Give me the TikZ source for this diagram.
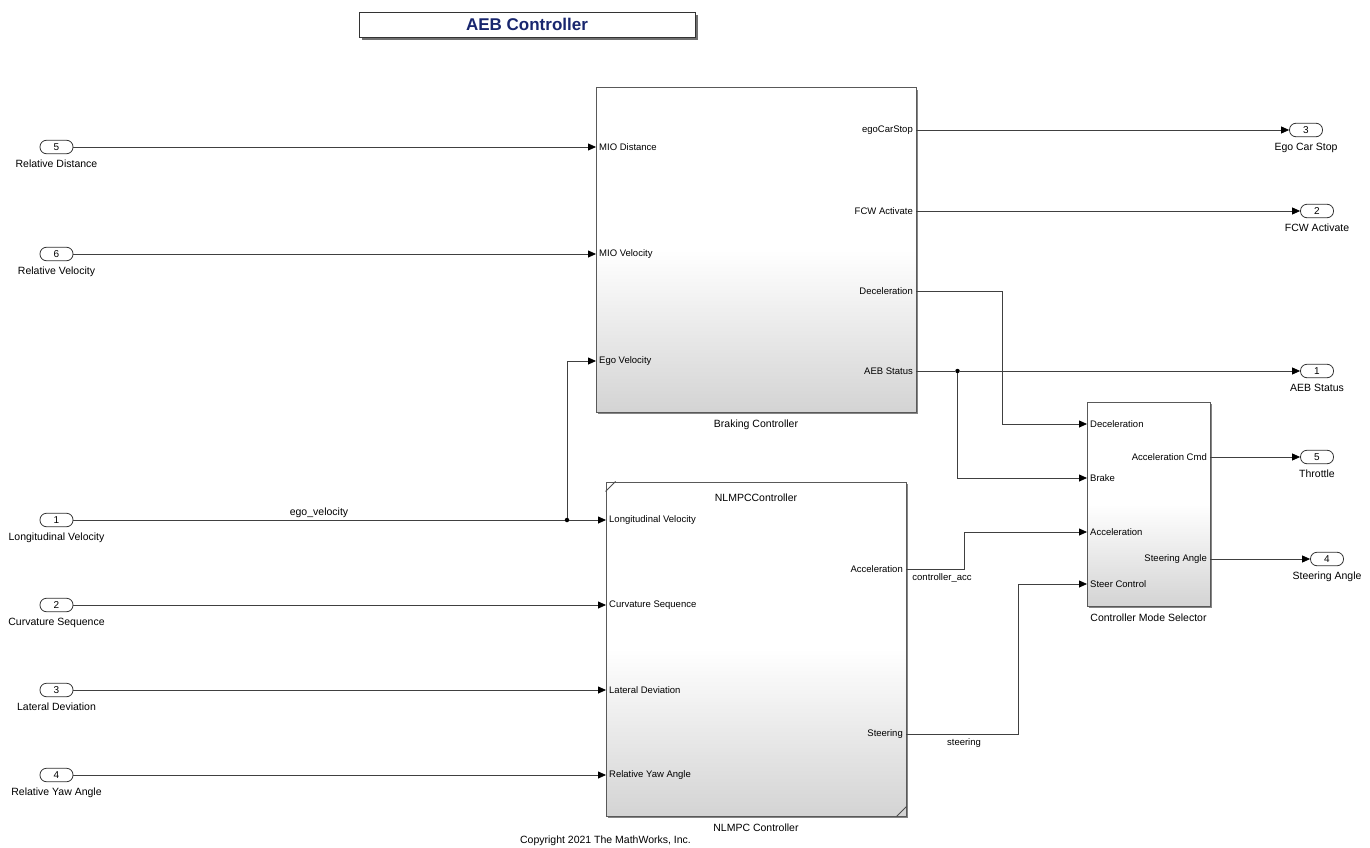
\documentclass[tikz,border=0pt]{standalone}
\usepackage{fontspec}
\setmainfont{Liberation Sans}
\usetikzlibrary{arrows.meta,calc,positioning,shadows}
\definecolor{titleblue}{RGB}{24,38,110}

\begin{document}
\begin{tikzpicture}[x=1pt, y=-1pt]
    \useasboundingbox (0,0) rectangle (1370,848);

    % Styles
    \tikzset{
        inport/.style={draw=black!80, fill=white, rounded corners=6.5pt, minimum width=33pt, minimum height=13.5pt, inner sep=0pt, line width=0.8pt, font=\fontsize{10}{12}\selectfont},
        extlbl/.style={inner sep=1pt, font=\fontsize{10.5}{12}\selectfont},
        portlbl/.style={inner sep=3pt, font=\fontsize{9.5}{11}\selectfont},
        block/.style={draw=black!65, line width=1pt, top color=white, bottom color=black!17, middle color=white, inner sep=0pt, drop shadow={shadow xshift=2pt, shadow yshift=-2pt, fill=black!60, opacity=0.8}},
        sig/.style={draw=black!75, line width=0.8pt},
        sigarr/.style={sig, -{Triangle[length=8pt, width=7pt, black]}},
        junc/.style={circle, fill=black, inner sep=0pt, minimum size=4.5pt}
    }

    % --- TITLE ---
    \node[draw=black!80, fill=white, line width=0.8pt, minimum width=336pt, minimum height=25pt,
          font=\bfseries\fontsize{17}{20}\selectfont, text=titleblue,
          drop shadow={shadow xshift=3pt, shadow yshift=-3pt, fill=black!70, opacity=0.8}] (title) at (527,24.8) {AEB Controller};

    % --- BLOCKS ---
    \node[block, minimum width=320pt, minimum height=324pt] (brake) at (756,250) {};
    \node[extlbl, below=6pt of brake] (brake-lbl) {Braking Controller};

    \node[block, minimum width=300pt, minimum height=334pt] (nlmpc) at (756,649) {};
    \node[extlbl, below=6pt of nlmpc] (nlmpc-lbl) {NLMPC Controller};
    \node[extlbl] (nlmpc-name) at (756,498) {NLMPCController};
    \draw[black!70, line width=0.8pt] ($(nlmpc.north west)+(0,10)$) -- ($(nlmpc.north west)+(10,0)$);
    \draw[black!70, line width=0.8pt] ($(nlmpc.south east)+(-10,0)$) -- ($(nlmpc.south east)+(0,-10)$);

    \node[block, minimum width=123pt, minimum height=204pt] (cms) at (1148.5,504) {};
    \node[extlbl, below=6pt of cms] (cms-lbl) {Controller Mode Selector};

    % --- PORTS ---
    \foreach \y/\t [count=\i] in {147/MIO Distance, 254/MIO Velocity, 361/Ego Velocity} {
        \coordinate (brake-in\i) at (596,\y);
        \node[portlbl, anchor=west] (brake-inl\i) at (brake-in\i) {\t};
    }
    \foreach \y/\t [count=\i] in {130/egoCarStop, 211/FCW Activate, 291/Deceleration, 371/AEB Status} {
        \coordinate (brake-out\i) at (916,\y);
        \node[portlbl, anchor=east] (brake-outl\i) at (brake-out\i) {\t};
    }
    \foreach \y/\t [count=\i] in {520/Longitudinal Velocity, 605/Curvature Sequence, 690/Lateral Deviation, 775/Relative Yaw Angle} {
        \coordinate (nlmpc-in\i) at (606,\y);
        \node[portlbl, anchor=west] (nlmpc-inl\i) at (nlmpc-in\i) {\t};
    }
    \foreach \y/\t [count=\i] in {569/Acceleration, 734/Steering} {
        \coordinate (nlmpc-out\i) at (906,\y);
        \node[portlbl, anchor=east] (nlmpc-outl\i) at (nlmpc-out\i) {\t};
    }
    \foreach \y/\t [count=\i] in {424/Deceleration, 478/Brake, 532/Acceleration, 584/Steer Control} {
        \coordinate (cms-in\i) at (1087,\y);
        \node[portlbl, anchor=west] (cms-inl\i) at (cms-in\i) {\t};
    }
    \foreach \y/\t [count=\i] in {457/Acceleration Cmd, 559/Steering Angle} {
        \coordinate (cms-out\i) at (1210,\y);
        \node[portlbl, anchor=east] (cms-outl\i) at (cms-out\i) {\t};
    }

    % --- INPORTS / OUTPORTS ---
    \foreach \n/\y/\t/\nm in {5/147/Relative Distance/reldist, 6/254/Relative Velocity/relvel,
                              1/520/Longitudinal Velocity/longvel, 2/605/Curvature Sequence/curvseq,
                              3/690/Lateral Deviation/latdev, 4/775/Relative Yaw Angle/relyaw} {
        \node[inport] (\nm) at (56.5,\y) {\n};
        \node[extlbl, below=4.5pt of \nm] (\nm-lbl) {\t};
    }
    \foreach \n/\x/\y/\t/\nm in {3/1306/130/Ego Car Stop/egostop, 2/1317/211/FCW Activate/fcw,
                                 1/1317/371/AEB Status/aebst, 5/1317/457/Throttle/throttle,
                                 4/1327/559/Steering Angle/steerang} {
        \node[inport] (\nm) at (\x,\y) {\n};
        \node[extlbl, below=4.5pt of \nm] (\nm-lbl) {\t};
    }

    % --- SIGNALS ---
    \draw[sigarr] (reldist) -- (brake-in1);
    \draw[sigarr] (relvel) -- (brake-in2);
    \node[junc] (ego-junc) at (567,520) {};
    \draw[sig] (longvel) -- (ego-junc);
    \draw[sigarr] (ego-junc) -- (nlmpc-in1);
    \draw[sigarr] (ego-junc) |- (brake-in3);
    \node[extlbl] (egovel-lbl) at (319,513) {ego\_velocity};
    \draw[sigarr] (curvseq) -- (nlmpc-in2);
    \draw[sigarr] (latdev) -- (nlmpc-in3);
    \draw[sigarr] (relyaw) -- (nlmpc-in4);

    \draw[sigarr] (brake-out1) -- (egostop);
    \draw[sigarr] (brake-out2) -- (fcw);
    \draw[sigarr] (brake-out3) -- ++(86,0) |- (cms-in1);
    \node[junc] (aeb-junc) at (957.5,371) {};
    \draw[sig] (brake-out4) -- (aeb-junc);
    \draw[sigarr] (aeb-junc) -- (aebst);
    \draw[sigarr] (aeb-junc) |- (cms-in2);

    \draw[sigarr] (nlmpc-out1) -- ++(58.5,0) |- (cms-in3);
    \node[extlbl, font=\fontsize{9.5}{11}\selectfont] (acc-lbl) at (942,578) {controller\_acc};
    \draw[sigarr] (nlmpc-out2) -- ++(112,0) |- (cms-in4);
    \node[extlbl, font=\fontsize{9.5}{11}\selectfont] (steer-lbl) at (964,743) {steering};

    \draw[sigarr] (cms-out1) -- (throttle);
    \draw[sigarr] (cms-out2) -- (steerang);

    \node[extlbl] (copyright) at (605.5,841) {Copyright 2021 The MathWorks, Inc.};

\end{tikzpicture}
\end{document}
